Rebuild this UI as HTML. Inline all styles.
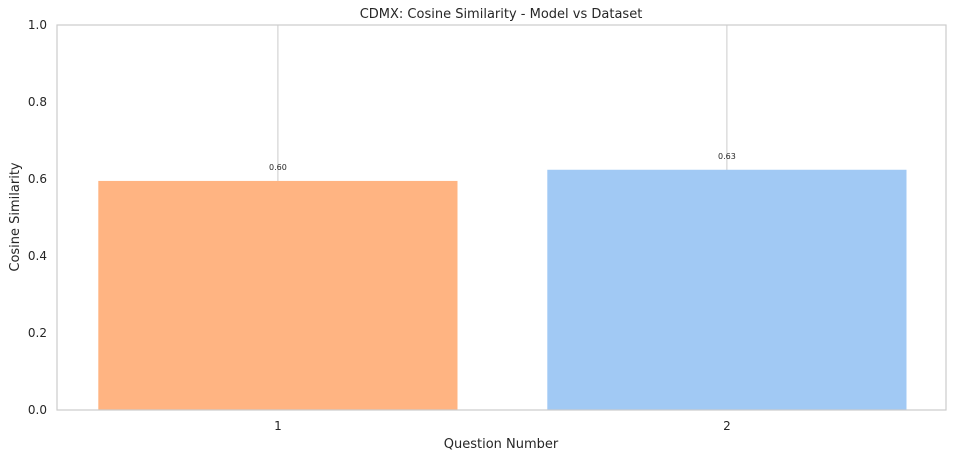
<!DOCTYPE html>
<html><head><meta charset="utf-8"><style>
body{margin:0;background:#fff;}
svg text{font-family:"DejaVu Sans","Liberation Sans",sans-serif;fill:#262626;}
</style></head><body>
<svg id="chart" width="954" height="460" xmlns="http://www.w3.org/2000/svg">
<text x="501" y="18" text-anchor="middle" font-size="13">CDMX: Cosine Similarity - Model vs Dataset</text>
<g id="grid"></g><g id="bars"></g><g id="axes"></g>
<text x="501" y="448" text-anchor="middle" font-size="13">Question Number</text>
<text transform="translate(19,217) rotate(-90)" text-anchor="middle" font-size="13">Cosine Similarity</text>
</svg>
<script>
const categories = ["1", "2"];
const values = [0.595, 0.624];
const valueLabels = ["0.60", "0.63"];
const yTicks = [0, 0.2, 0.4, 0.6, 0.8, 1.0];
const yTickLabels = ["0.0", "0.2", "0.4", "0.6", "0.8", "1.0"];
const colors = ["#ffb482", "#a1c9f4"];

const L=57,R=946,T=25,B=410;
const NS="http://www.w3.org/2000/svg";
const xMin=-0.492,xMax=1.488;
const xC=i=>L+(i-xMin)/(xMax-xMin)*(R-L);
const y=v=>B-(v/1.0)*(B-T);
function mk(tag,attrs,parent,txt){const e=document.createElementNS(NS,tag);for(const k in attrs)e.setAttribute(k,attrs[k]);if(txt!==undefined)e.textContent=txt;parent.appendChild(e);return e;}
const grid=document.getElementById('grid'),bars=document.getElementById('bars'),axes=document.getElementById('axes');
categories.forEach((c,i)=>{
  const g=mk('line',{x1:xC(i),x2:xC(i),y1:T,y2:B,stroke:'#cccccc','stroke-width':1},grid);
  
  
  const w=xC(0.8)-xC(0);
  const r=mk('rect',{x:xC(i)-w/2,y:y(values[i]),width:w,height:B-y(values[i]),fill:colors[i]},bars);
  
  
  const vl=mk('text',{x:xC(i),y:y(values[i])-11,'text-anchor':'middle','font-size':'8'},bars,valueLabels[i]);
  
  
  const tl=mk('text',{x:xC(i),y:B+20,'text-anchor':'middle','font-size':'12'},axes,c);
  
  
});
yTicks.forEach((t,i)=>{
  const tl=mk('text',{x:L-10,y:y(t)+4,'text-anchor':'end','font-size':'12'},axes,yTickLabels[i]);
  
  
});
const frame=mk('rect',{x:L,y:T,width:R-L,height:B-T,fill:'none',stroke:'#cccccc','stroke-width':1.2},axes);


</script>
</body></html>
